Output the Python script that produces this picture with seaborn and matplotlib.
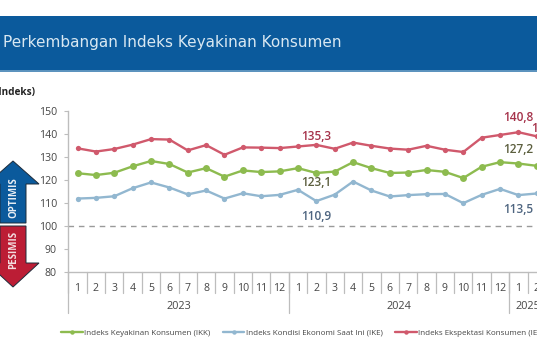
#!/usr/bin/env python3
"""Perkembangan Indeks Keyakinan Konsumen, 2023 - early 2025."""

import matplotlib
matplotlib.use("Agg")
import matplotlib.pyplot as plt
from matplotlib.patches import Polygon, Rectangle
import pandas as pd
import seaborn as sns

W, H = 537, 360

# Data
MONTHS = [1, 2, 3, 4, 5, 6, 7, 8, 9, 10, 11, 12,
          1, 2, 3, 4, 5, 6, 7, 8, 9, 10, 11, 12,
          1, 2]
YEARS = ["2023", "2024", "2025"]
YEAR_LENGTHS = [12, 12, 2]
IKK = [123.0, 122.2, 123.2, 126.0, 128.3, 127.0, 123.3, 125.2, 121.5, 124.2, 123.5, 123.8,
       125.2, 123.1, 123.7, 127.8, 125.2, 123.1, 123.3, 124.4, 123.6, 120.9, 125.8, 127.8,
       127.2, 126.2]
IKE = [112.0, 112.3, 113.0, 116.5, 119.0, 116.8, 113.8, 115.5, 112.0, 114.3, 113.0, 113.6,
       115.8, 110.9, 113.7, 119.4, 115.5, 112.9, 113.5, 113.9, 114.0, 110.0, 113.6, 116.2,
       113.5, 114.2]
IEK = [133.8, 132.4, 133.5, 135.4, 137.8, 137.6, 132.9, 135.2, 131.0, 134.2, 134.1, 133.9,
       134.6, 135.3, 133.6, 136.3, 134.9, 133.7, 133.2, 134.9, 133.2, 132.2, 138.4, 139.6,
       140.8, 139.0]
Y_TICKS = [80, 90, 100, 110, 120, 130, 140, 150]

SERIES = [
    ("Indeks Keyakinan Konsumen (IKK)", IKK, "#8DBB4F", 5.0),
    ("Indeks Kondisi Ekonomi Saat Ini (IKE)", IKE, "#92B7D0", 3.8),
    ("Indeks Ekspektasi Konsumen (IEK)", IEK, "#D0596C", 3.8),
]

# month index, label, value, offset from the point in px (x, y up), alignment, colour
LABELS = [
    (13, "135,3", 135.3, 0, 8, "center", "#A5324A"),
    (13, "123,1", 123.1, 0, -10, "center", "#5C5F3E"),
    (13, "110,9", 110.9, 0, -15, "center", "#4E6580"),
    (24, "140,8", 140.8, 0, 14.5, "center", "#A5324A"),
    (24, "127,2", 127.2, 0, 13.7, "center", "#5C5F3E"),
    (24, "113,5", 113.5, 0, -14, "center", "#4E6580"),
    (25, "139,0", 139.0, -6, 8, "left", "#A5324A"),
]

BLUE = "#0B5A9C"
RED = "#BC1D35"
GREY = "#BDBDBD"
TEXT = "#454545"

sns.set_theme(style="white")
plt.rcParams["font.family"] = ["Open Sans", "DejaVu Sans"]

df = pd.concat(
    [pd.DataFrame({"idx": range(len(vals)), "val": vals, "seri": name})
     for name, vals, _, _ in SERIES],
    ignore_index=True,
)

fig = plt.figure(figsize=(W / 100, H / 100), dpi=100, facecolor="white")


def px(x, y):
    """Pixel position from top-left to figure fraction."""
    return x / W, 1 - y / H


# Axes: y 150 at 111px, 80 at 272px; first month at 77.5px, 18.37px per month
left, top, bottom = 68, 111, 272.3
ax = fig.add_axes([left / W, 1 - bottom / H, (W - left) / W, (bottom - top) / H])
ax.set_facecolor("none")

for name, vals, color, ms in SERIES:
    sns.lineplot(data=df[df["seri"] == name], x="idx", y="val", ax=ax, color=color, label=name,
                 linewidth=1.7, marker="o", markersize=ms, markeredgewidth=0, errorbar=None)

ax.set_xlim(-0.52, (W - 77.5) / 18.37)
ax.set_ylim(80, 150)
ax.axhline(100, color="#9A9A9A", linestyle=(0, (4, 3.5)), linewidth=1.0, zorder=1)

ax.set_yticks(Y_TICKS)
ax.set_xticks(range(len(MONTHS)), MONTHS)
ax.set_xlabel("")
ax.set_ylabel("")
ax.tick_params(axis="y", left=True, length=3, width=0.8, color=GREY, labelsize=7.6,
               labelcolor=TEXT, pad=5)
ax.tick_params(axis="x", bottom=False, labelsize=7.6, labelcolor=TEXT, pad=1.5)
sns.despine(ax=ax, right=True, top=True)
for side in ["left", "bottom"]:
    ax.spines[side].set_color(GREY)
    ax.spines[side].set_linewidth(1.0)

# Category separators below the axis
trans = ax.get_xaxis_transform()
for i in range(len(MONTHS)):
    ax.plot([i - 0.5, i - 0.5], [0, -0.13], transform=trans, color=GREY, lw=0.9, clip_on=False)
start = 0
for year, n in zip(YEARS, YEAR_LENGTHS):
    ax.plot([start - 0.5, start - 0.5], [0, -0.255], transform=trans, color=GREY, lw=0.9, clip_on=False)
    ax.text(start + (n - 1) / 2, -0.21, year, transform=trans, ha="center", va="center",
            fontsize=7.8, color=TEXT, clip_on=False)
    start += n

for i, text, val, dx, dy, ha, color in LABELS:
    ax.annotate(text, (i, val), xytext=(dx * 0.72, dy * 0.72), textcoords="offset points", ha=ha,
                va="center", fontsize=8.6, fontweight="semibold", color=color,
                annotation_clip=False)

ax.legend(loc="center left", bbox_to_anchor=px(61, 333), bbox_transform=fig.transFigure,
          ncol=3, frameon=False, fontsize=5.8, labelcolor=TEXT, columnspacing=1.5,
          handlelength=2.7, handletextpad=0.2, borderpad=0, borderaxespad=0)
for handle in ax.get_legend().legend_handles:
    handle.set_markersize(3.2)

# Header band
fig.add_artist(Rectangle(px(0, 71), 1, 55 / H, transform=fig.transFigure, facecolor=BLUE,
                         edgecolor="none"))
fig.add_artist(Rectangle(px(0, 71.5), 1, 1.5 / H, transform=fig.transFigure, facecolor="#5C93BE",
                         edgecolor="none"))
fig.text(*px(3, 43), "Perkembangan Indeks Keyakinan Konsumen", family="DejaVu Sans", fontsize=11,
         color="#D9E8F2", ha="left", va="center")
fig.text(*px(36, 92), "(Indeks)", fontsize=7.2, fontweight="bold", color="#222222", ha="right",
         va="center")

# Optimis / pesimis arrows
up = [(13, 161), (39, 184), (26, 184), (26, 223), (0, 223), (0, 184), (-13, 184)]
down = [(13, 287), (39, 263), (26, 263), (26, 226), (0, 226), (0, 263), (-13, 263)]
for pts, color in [(up, BLUE), (down, RED)]:
    fig.add_artist(Polygon([px(*p) for p in pts], closed=True, transform=fig.transFigure,
                           facecolor=color, edgecolor="#1D2B3A", linewidth=0.7))
fig.text(*px(13.5, 198), "OPTIMIS", rotation=90, fontsize=7, fontweight="bold", color="#E8EEF4",
         ha="center", va="center")
fig.text(*px(13.5, 250), "PESIMIS", rotation=90, fontsize=7, fontweight="bold", color="#F3DDE0",
         ha="center", va="center")

fig.savefig("out.png", dpi=100)
